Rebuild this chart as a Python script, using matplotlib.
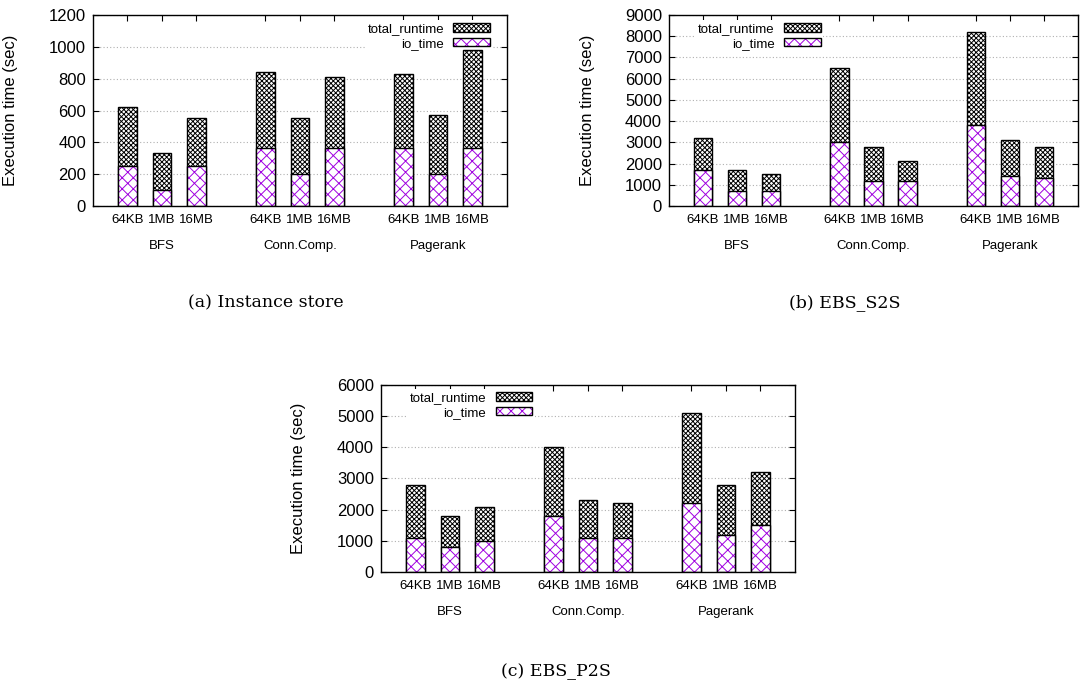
import matplotlib.pyplot as plt
from matplotlib.transforms import blended_transform_factory


plt.rcParams['font.family'] = ['Liberation Sans', 'DejaVu Sans']
plt.rcParams['hatch.linewidth'] = 0.7

# data
block_sizes = ['64KB', '1MB', '16MB']
workloads = ['BFS', 'Conn.Comp.', 'Pagerank']
bar_positions = [0, 1, 2, 4, 5, 6, 8, 9, 10]

instance_total = [620, 330, 550, 840, 550, 810, 830, 570, 980]
instance_io = [250, 100, 250, 365, 200, 365, 365, 200, 365]

s2s_total = [3200, 1700, 1500, 6500, 2800, 2100, 8200, 3100, 2800]
s2s_io = [1700, 700, 700, 3000, 1200, 1200, 3800, 1400, 1300]

p2s_total = [2800, 1800, 2100, 4000, 2300, 2200, 5100, 2800, 3200]
p2s_io = [1100, 800, 1000, 1800, 1100, 1100, 2200, 1200, 1500]

io_color = '#a000e0'

panels = {
    'a': {
        'rect': [0.0856, 0.6997, 0.3812, 0.2784],
        'total': instance_total, 'io': instance_io,
        'ymax': 1200, 'ystep': 200,
        'legend_anchor': (0.966, 0.972), 'legend_loc': 'upper right',
        'caption': '(a) Instance store', 'caption_xy': (266, 303),
    },
    'b': {
        'rect': [0.616, 0.6997, 0.3766, 0.2784],
        'total': s2s_total, 'io': s2s_io,
        'ymax': 9000, 'ystep': 1000,
        'legend_anchor': (0.064, 0.972), 'legend_loc': 'upper left',
        'caption': '(b) EBS_S2S', 'caption_xy': (845, 303),
    },
    'c': {
        'rect': [0.3508, 0.1662, 0.3812, 0.2726],
        'total': p2s_total, 'io': p2s_io,
        'ymax': 6000, 'ystep': 1000,
        'legend_anchor': (0.063, 0.976), 'legend_loc': 'upper left',
        'caption': '(c) EBS_P2S', 'caption_xy': (556, 672),
    },
}

fig = plt.figure(figsize=(10.86, 6.86), dpi=100)

for name, panel in panels.items():
    ax = fig.add_axes(panel['rect'])

    # full runtime bars, then the io part drawn over the bottom
    ax.bar(bar_positions, panel['total'], width=0.54, color='white', edgecolor='black',
           hatch='xxxxxxx', linewidth=1.0, label='total_runtime', zorder=2)
    ax.bar(bar_positions, panel['io'], width=0.54, color='white', edgecolor=io_color,
           hatch='xxx', linewidth=0, zorder=3)
    ax.bar(bar_positions, panel['io'], width=0.54, fill=False, edgecolor='black',
           linewidth=1.0, zorder=4)

    # legend proxy for io bars (hatch + black outline)
    io_proxy = plt.Rectangle((0, 0), 1, 1, facecolor='white', edgecolor=io_color,
                             hatch='xxx', linewidth=0)
    io_outline = plt.Rectangle((0, 0), 1, 1, fill=False, edgecolor='black', linewidth=1.0)
    handles, labels = ax.get_legend_handles_labels()
    handles.append((io_proxy, io_outline))
    labels.append('io_time')

    leg = ax.legend(handles, labels, loc=panel['legend_loc'], bbox_to_anchor=panel['legend_anchor'],
                    markerfirst=False, fontsize=9.5, handlelength=2.8, handleheight=0.6,
                    handletextpad=0.7, labelspacing=0.2, borderpad=0.2, borderaxespad=0,
                    frameon=True, fancybox=False, framealpha=1)
    leg.get_frame().set_edgecolor('none')
    # bars are drawn over the legend box, the grid stays under it
    leg.set_zorder(1.5)

    ax.set_xlim(-1, 11)
    ax.set_ylim(0, panel['ymax'])
    ax.set_yticks(range(0, panel['ymax'] + 1, panel['ystep']))
    ax.set_xticks(bar_positions)
    ax.set_xticklabels(block_sizes * 3, fontsize=9.5)
    ax.tick_params(axis='y', labelsize=12, direction='in', right=True, length=4, pad=5)
    ax.tick_params(axis='x', direction='in', top=True, length=4, pad=6)
    ax.grid(axis='y', color='#b0b0b0', linestyle=(0, (1, 2)), linewidth=0.8, zorder=0)
    ax.set_axisbelow(True)
    for spine in ax.spines.values():
        spine.set_linewidth(1.0)
        spine.set_zorder(6)

    ax.set_ylabel('Execution time (sec)', fontsize=12)
    ax.yaxis.set_label_coords(-0.182, 0.5)

    # group names under the block size labels
    trans = blended_transform_factory(ax.transData, ax.transAxes)
    for i, workload in enumerate(workloads):
        center = sum(bar_positions[i * 3:i * 3 + 3]) / 3
        ax.text(center, -0.212, workload, transform=trans, ha='center', va='center', fontsize=9.5)

    cx, cy = panel['caption_xy']
    fig.text(cx / 1086, 1 - cy / 686, panel['caption'], ha='center', va='center',
             fontsize=12.5, family='DejaVu Serif')

fig.savefig('out.png', dpi=100)
